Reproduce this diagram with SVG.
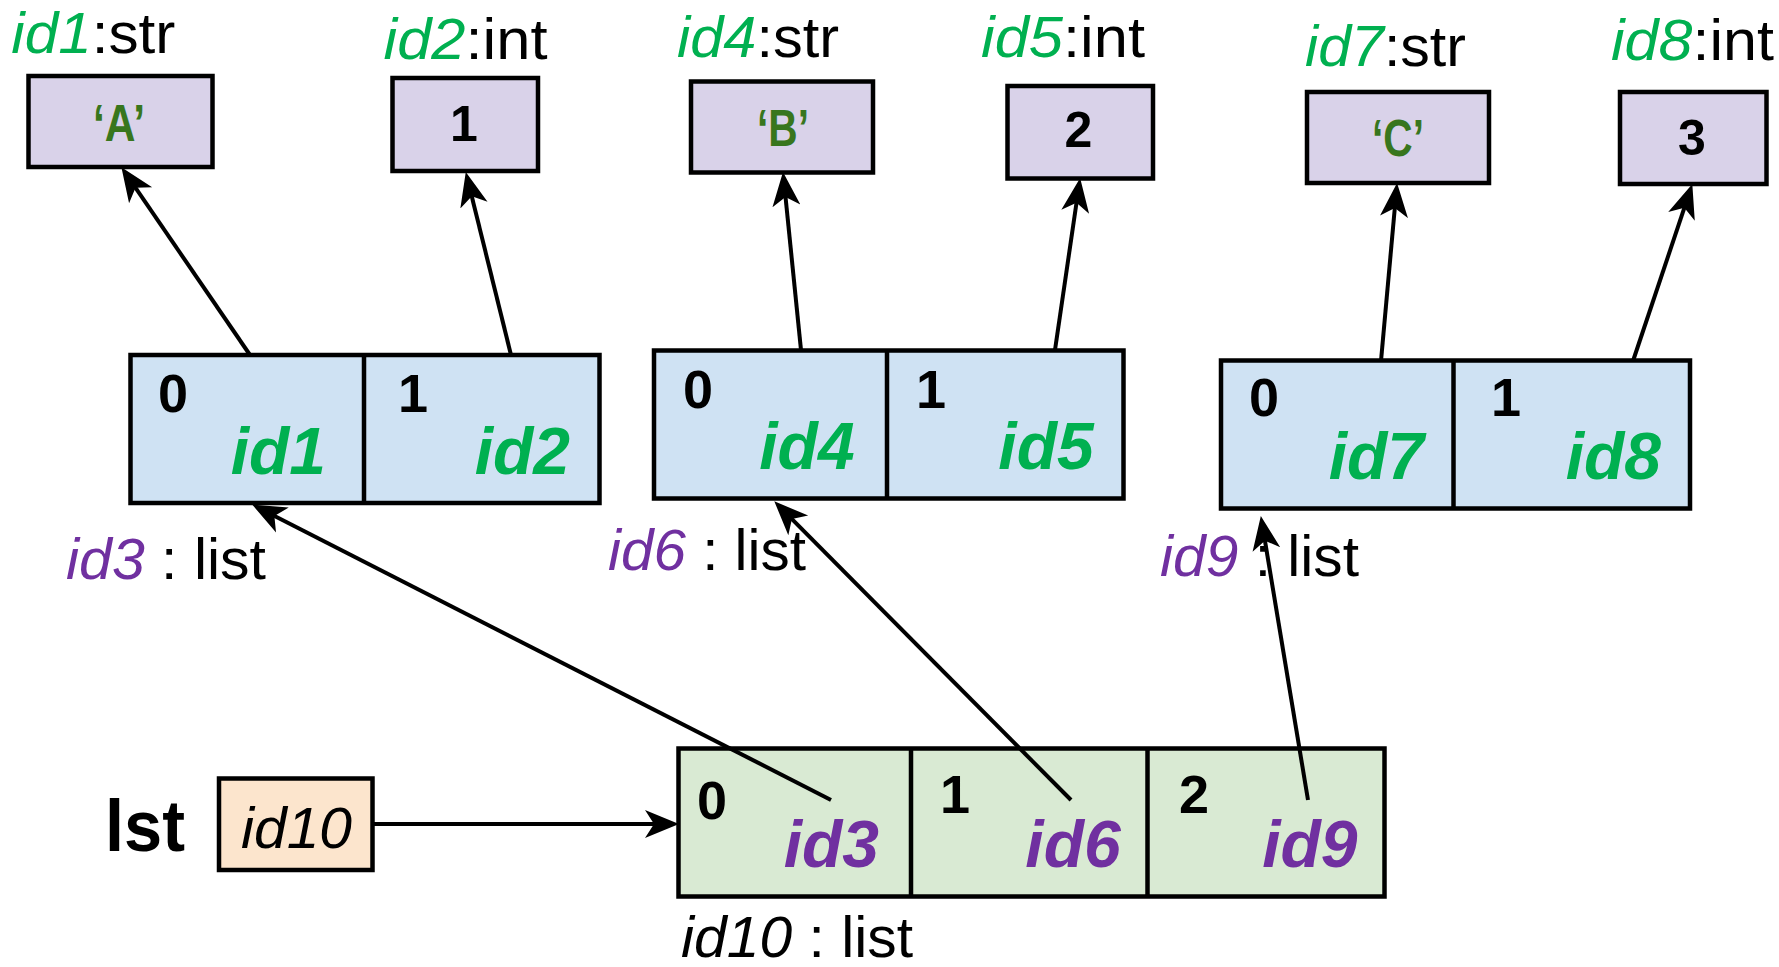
<svg xmlns="http://www.w3.org/2000/svg" width="1779" height="967" viewBox="0 0 1779 967">
<style>
text{font-family:"Liberation Sans",Arial,sans-serif}
.val{fill:#D9D2E9;stroke:#000;stroke-width:4.5}
.lst{fill:#CFE2F3;stroke:#000;stroke-width:4.5}
.glst{fill:#D9EAD3;stroke:#000;stroke-width:4.5}
.ref{fill:#FCE5CD;stroke:#000;stroke-width:4.5}
.div{stroke:#000;stroke-width:4.5}
.lbl{font-size:57px;fill:#000}
.g{fill:#00B050;font-style:italic}
.p{fill:#7030A0;font-style:italic}
.vs{font-size:52px;font-weight:bold;fill:#38761D;text-anchor:middle}
.vn{font-size:50px;font-weight:bold;fill:#000;text-anchor:middle}
.idx{font-size:54px;font-weight:bold;fill:#000}
.bg{font-size:66px;font-weight:bold;font-style:italic;fill:#00B050;text-anchor:end}
.bp{font-size:66px;font-weight:bold;font-style:italic;fill:#7030A0;text-anchor:end}
.con line{stroke:#000;stroke-width:4;marker-end:url(#ah)}
</style>
<defs>
<marker id="ah" markerUnits="userSpaceOnUse" markerWidth="36" markerHeight="32" viewBox="0 0 36 32" refX="11" refY="16" orient="auto">
<path d="M34,16 L0,2 L9,16 L0,30 Z" fill="#000"/>
</marker>
</defs>
<rect width="1779" height="967" fill="#fff"/>

<g id="id1">
<text class="lbl" x="11.3" y="53" textLength="164" lengthAdjust="spacingAndGlyphs"><tspan class="g">id1</tspan>:str</text>
<rect class="val" x="28.5" y="76" width="184" height="91"/>
<text class="vs" x="119" y="141" textLength="52" lengthAdjust="spacingAndGlyphs">‘A’</text>
</g>
<g id="id2">
<text class="lbl" x="383.5" y="59" textLength="164" lengthAdjust="spacingAndGlyphs"><tspan class="g">id2</tspan>:int</text>
<rect class="val" x="392.5" y="78" width="145.5" height="93"/>
<text class="vn" x="464" y="141">1</text>
</g>
<g id="id4">
<text class="lbl" x="677" y="57" textLength="162" lengthAdjust="spacingAndGlyphs"><tspan class="g">id4</tspan>:str</text>
<rect class="val" x="691" y="81.5" width="182" height="91"/>
<text class="vs" x="783" y="146" textLength="52" lengthAdjust="spacingAndGlyphs">‘B’</text>
</g>
<g id="id5">
<text class="lbl" x="981" y="57" textLength="164" lengthAdjust="spacingAndGlyphs"><tspan class="g">id5</tspan>:int</text>
<rect class="val" x="1007.5" y="86" width="145.5" height="92.5"/>
<text class="vn" x="1078.5" y="147">2</text>
</g>
<g id="id7">
<text class="lbl" x="1305" y="66" textLength="161" lengthAdjust="spacingAndGlyphs"><tspan class="g">id7</tspan>:str</text>
<rect class="val" x="1307" y="92" width="182" height="91"/>
<text class="vs" x="1398" y="156" textLength="52" lengthAdjust="spacingAndGlyphs">‘C’</text>
</g>
<g id="id8">
<text class="lbl" x="1611" y="60" textLength="163" lengthAdjust="spacingAndGlyphs"><tspan class="g">id8</tspan>:int</text>
<rect class="val" x="1620" y="92" width="146.5" height="92"/>
<text class="vn" x="1692" y="155">3</text>
</g>

<g id="id3">
<rect class="lst" x="130.5" y="355" width="469" height="148"/>
<line class="div" x1="364" y1="355" x2="364" y2="503"/>
<text class="idx" x="158" y="412">0</text>
<text class="bg" x="326" y="474">id1</text>
<text class="idx" x="398" y="412">1</text>
<text class="bg" x="570" y="474">id2</text>
<text class="lbl" x="66" y="579" textLength="200" lengthAdjust="spacingAndGlyphs"><tspan class="p">id3</tspan> : list</text>
</g>
<g id="id6">
<rect class="lst" x="654" y="350.5" width="469.5" height="148"/>
<line class="div" x1="887" y1="350.5" x2="887" y2="498.5"/>
<text class="idx" x="683" y="408">0</text>
<text class="bg" x="854.6" y="469">id4</text>
<text class="idx" x="916" y="408">1</text>
<text class="bg" x="1093.7" y="469">id5</text>
<text class="lbl" x="608" y="570" textLength="198" lengthAdjust="spacingAndGlyphs"><tspan class="p">id6</tspan> : list</text>
</g>
<g id="id9">
<rect class="lst" x="1221" y="360.5" width="469" height="148"/>
<line class="div" x1="1453.5" y1="360.5" x2="1453.5" y2="508.5"/>
<text class="idx" x="1249" y="416">0</text>
<text class="bg" x="1424" y="479">id7</text>
<text class="idx" x="1491" y="416">1</text>
<text class="bg" x="1661" y="479">id8</text>
<text class="lbl" x="1160" y="576" textLength="199" lengthAdjust="spacingAndGlyphs"><tspan class="p">id9</tspan> : list</text>
</g>
<g id="id10">
<rect class="glst" x="678.5" y="748.5" width="706" height="148"/>
<line class="div" x1="911" y1="748.5" x2="911" y2="896.5"/>
<line class="div" x1="1147.5" y1="748.5" x2="1147.5" y2="896.5"/>
<text class="idx" x="697" y="819">0</text>
<text class="bp" x="879" y="867">id3</text>
<text class="idx" x="940" y="813">1</text>
<text class="bp" x="1120.7" y="867">id6</text>
<text class="idx" x="1179" y="813">2</text>
<text class="bp" x="1357.5" y="867">id9</text>
<text class="lbl" x="681" y="957" textLength="232" lengthAdjust="spacingAndGlyphs"><tspan style="font-style:italic">id10</tspan> : list</text>
</g>
<g id="lst">
<text x="105" y="851" style="font-size:72px;font-weight:bold" textLength="80" lengthAdjust="spacingAndGlyphs">lst</text>
<rect class="ref" x="219" y="778.5" width="153.5" height="91.5"/>
<text x="241" y="848" style="font-size:58px;font-style:italic" textLength="111" lengthAdjust="spacingAndGlyphs">id10</text>
</g>

<g id="connectors" class="con">
<line x1="250" y1="355" x2="134.4" y2="186.2"/>
<line x1="511" y1="355" x2="471.3" y2="194.4"/>
<line x1="801" y1="350" x2="785.3" y2="194.9"/>
<line x1="1055" y1="350" x2="1076.8" y2="200.8"/>
<line x1="1381" y1="361" x2="1395" y2="205.9"/>
<line x1="1633" y1="361" x2="1685" y2="205.9"/>
<line x1="831" y1="800" x2="272.6" y2="515"/>
<line x1="1071" y1="800" x2="790.5" y2="517.6"/>
<line x1="1308" y1="800" x2="1264.6" y2="538.7"/>
<line x1="373" y1="824" x2="656" y2="824"/>
</g>
</svg>
